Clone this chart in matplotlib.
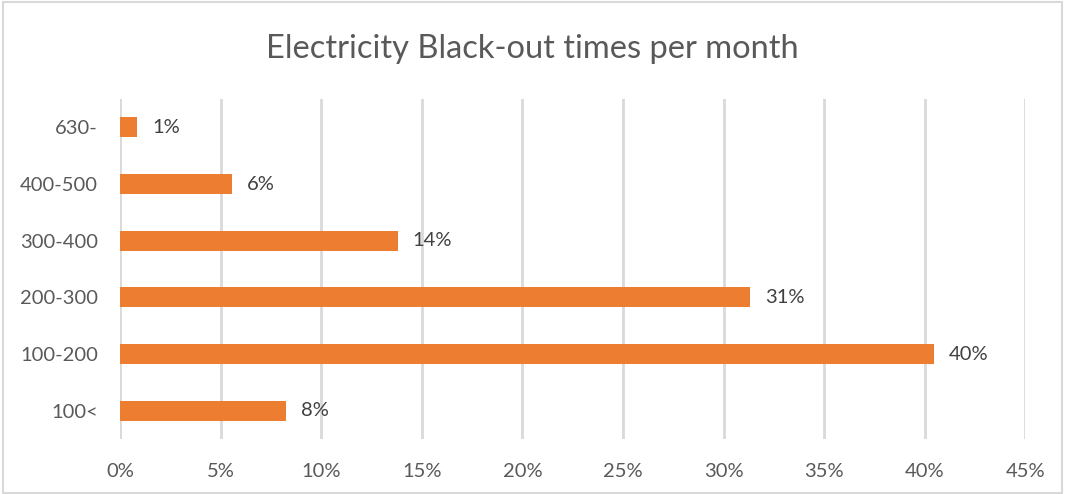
import matplotlib.pyplot as plt
from matplotlib.patches import Rectangle
from matplotlib.ticker import FuncFormatter

# black-out ranges (bottom to top) and the share of households in each
ranges = ['100<', '100-200', '200-300', '300-400', '400-500', '630-']
shares = [8.27, 40.45, 31.3, 13.8, 5.55, 0.85]

plt.rcParams['font.family'] = ['Lato', 'DejaVu Sans']

fig = plt.figure(figsize=(10.65, 4.94), dpi=100)
ax = fig.add_axes([0.1127, 0.1113, 0.85, 0.6883])

ypos = range(len(ranges))
ax.barh(ypos, shares, height=0.35, color='#ED7D31', zorder=3)

for y, v in zip(ypos, shares):
    ax.text(v + 0.75, y, '%d%%' % round(v), va='center', ha='left',
            fontsize=14.5, color='#404040')

ax.set_xlim(0, 45)
ax.set_ylim(-0.5, len(ranges) - 0.5)
ax.set_xticks(range(0, 46, 5))
ax.xaxis.set_major_formatter(FuncFormatter(lambda x, p: '%d%%' % x))
ax.set_yticks(list(ypos))
ax.set_yticklabels(ranges)

ax.grid(axis='x', color='#D9D9D9', linewidth=2, zorder=0)
for s in ax.spines.values():
    s.set_visible(False)
ax.tick_params(axis='both', length=0, labelsize=14.5, labelcolor='#595959')
ax.tick_params(axis='x', pad=17)
ax.tick_params(axis='y', pad=16)

fig.text(0.5, 0.9, 'Electricity Black-out times per month',
         ha='center', va='center', fontsize=23.5, color='#595959')

# light frame round the whole chart
fig.patches.append(Rectangle((0.003, 0.003), 0.994, 0.992,
                             transform=fig.transFigure, fill=False,
                             edgecolor='#D9D9D9', linewidth=1.5))

fig.savefig('out.png', dpi=100)
